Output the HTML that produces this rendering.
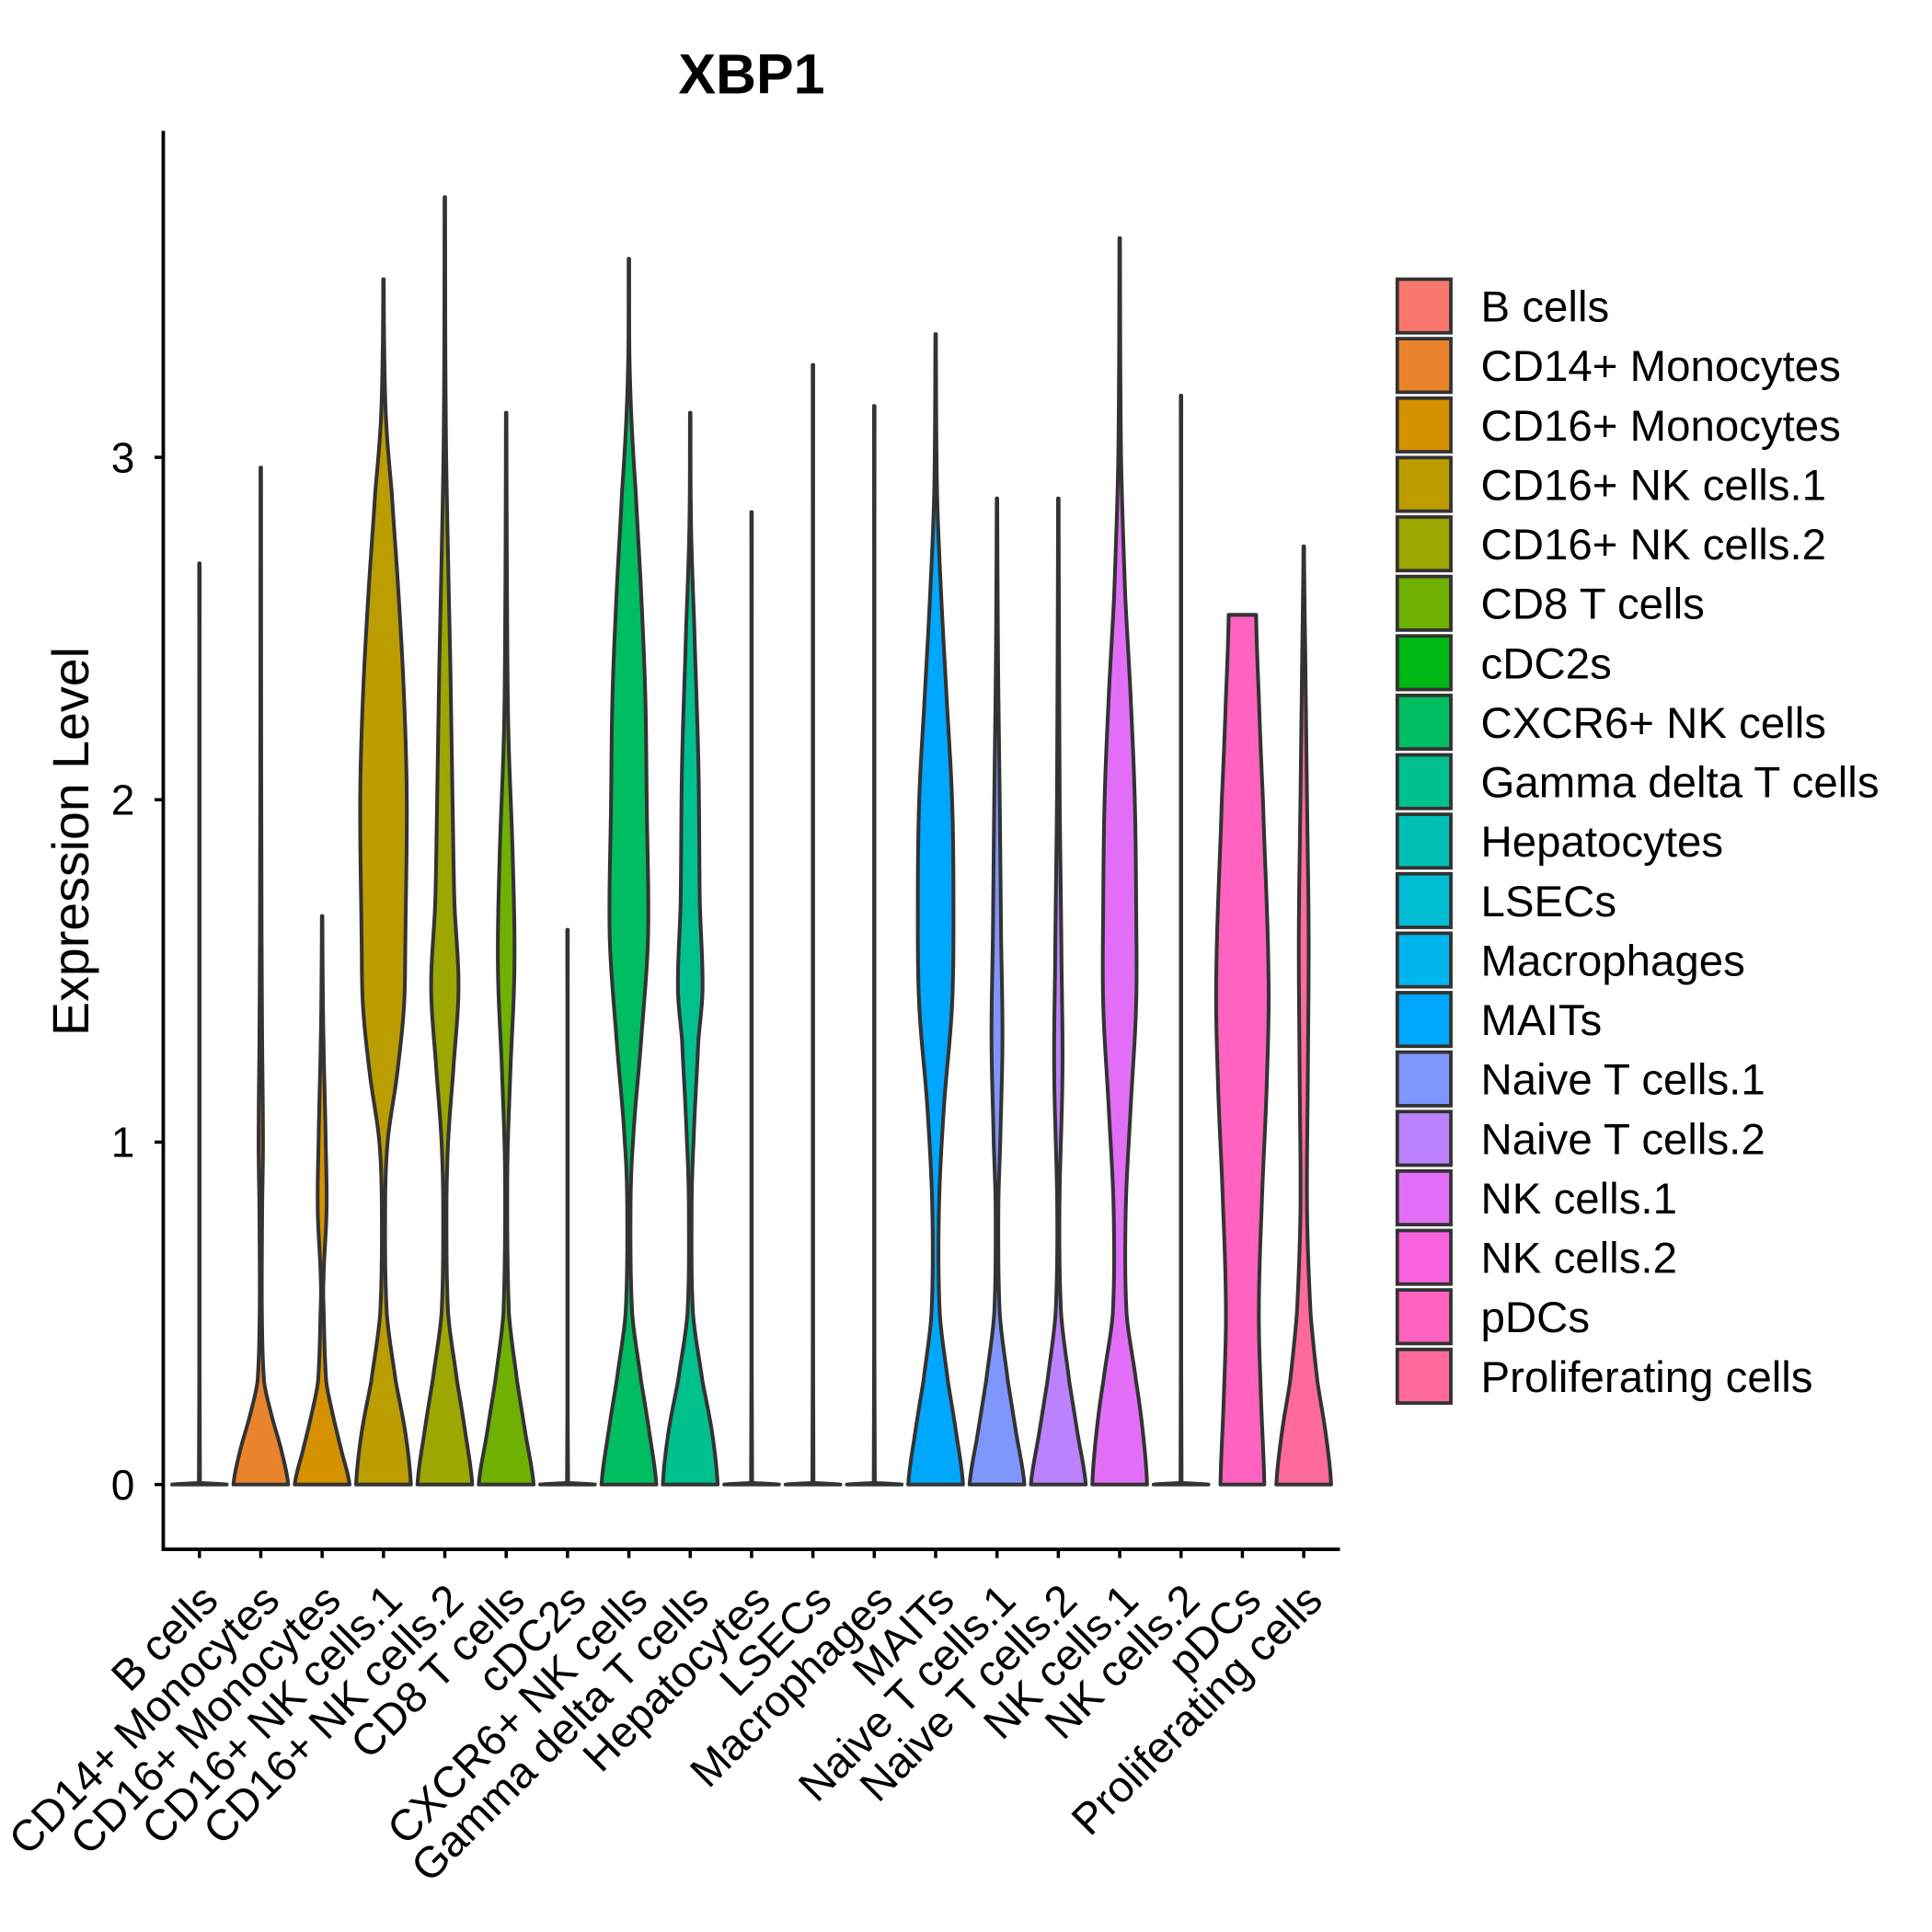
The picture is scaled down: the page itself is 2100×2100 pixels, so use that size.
<!DOCTYPE html>
<html><head><meta charset="utf-8"><style>html,body{margin:0;padding:0;background:#fff}svg{display:block}text{font-family:"Liberation Sans",Arial,sans-serif}</style></head>
<body>
<svg id="chart" width="2100" height="2100" viewBox="0 0 1550 1550" xmlns="http://www.w3.org/2000/svg">
<rect width="1550" height="1550" fill="#fff"/>
<text x="603" y="75" font-size="45" font-weight="bold" text-anchor="middle">XBP1</text>
<text transform="translate(71,675) rotate(-90)" font-size="41" text-anchor="middle">Expression Level</text>
<g id="plot"></g>
<g id="legend"></g>
</svg>
<script>
const categories = ["B cells","CD14+ Monocytes","CD16+ Monocytes","CD16+ NK cells.1","CD16+ NK cells.2","CD8 T cells","cDC2s","CXCR6+ NK cells","Gamma delta T cells","Hepatocytes","LSECs","Macrophages","MAITs","Naive T cells.1","Naive T cells.2","NK cells.1","NK cells.2","pDCs","Proliferating cells"];
const colors = ["#F8766D","#E9842C","#D69100","#BC9D00","#9CA700","#6FB000","#00B813","#00BD61","#00C08E","#00C0B4","#00BDD4","#00B5EE","#00A7FF","#7F96FF","#BC81FF","#E26EF7","#F863DF","#FF62BF","#FF6A9A"];
const maxValues = [2.69,2.97,1.66,3.52,3.76,3.13,1.62,3.58,3.13,2.84,3.27,3.15,3.36,2.88,2.88,3.64,3.18,2.54,2.74];
// density knots: [expression value, relative half-width]
const densities = [
 [[0,1],[0.005,0.02]],
 [[0,1],[0.1,0.75],[0.2,0.4],[0.3,0.12],[0.5,0.04],[0.8,0.05],[1.0,0.08],[1.3,0.05],[1.6,0.03],[2.2,0.015]],
 [[0,1],[0.1,0.7],[0.2,0.4],[0.3,0.15],[0.5,0.06],[0.6,0.05],[0.8,0.16],[1.0,0.13],[1.3,0.05],[1.5,0.02]],
 [[0,1],[0.15,0.8],[0.3,0.45],[0.5,0.12],[0.8,0.06],[1.0,0.15],[1.2,0.5],[1.4,0.75],[1.6,0.8],[2.0,0.85],[2.3,0.75],[2.6,0.55],[2.9,0.3],[3.1,0.1],[3.3,0.03]],
 [[0,1],[0.15,0.75],[0.3,0.45],[0.5,0.12],[0.8,0.06],[1.0,0.12],[1.2,0.3],[1.45,0.5],[1.7,0.35],[2.0,0.28],[2.4,0.2],[2.7,0.12],[3.0,0.05],[3.3,0.02]],
 [[0,1],[0.15,0.7],[0.3,0.4],[0.5,0.1],[0.9,0.04],[1.2,0.15],[1.5,0.3],[1.8,0.25],[2.2,0.08],[2.6,0.03]],
 [[0,1],[0.005,0.02]],
 [[0,1],[0.15,0.75],[0.3,0.45],[0.5,0.12],[0.8,0.06],[1.0,0.15],[1.3,0.45],[1.6,0.7],[2.0,0.65],[2.3,0.6],[2.6,0.45],[2.9,0.25],[3.1,0.1],[3.3,0.02]],
 [[0,1],[0.15,0.8],[0.3,0.45],[0.5,0.1],[0.8,0.05],[1.0,0.12],[1.3,0.3],[1.45,0.45],[1.7,0.35],[2.1,0.3],[2.5,0.15],[2.8,0.03]],
 [[0,1],[0.005,0.02]],
 [[0,1],[0.005,0.02]],
 [[0,1],[0.005,0.02]],
 [[0,1],[0.15,0.75],[0.3,0.45],[0.5,0.15],[0.8,0.12],[1.1,0.3],[1.4,0.6],[1.7,0.65],[2.0,0.6],[2.3,0.4],[2.6,0.2],[2.9,0.05]],
 [[0,1],[0.15,0.7],[0.3,0.4],[0.5,0.1],[0.8,0.05],[1.0,0.12],[1.3,0.2],[1.6,0.15],[2.0,0.1],[2.4,0.04]],
 [[0,1],[0.15,0.7],[0.3,0.4],[0.5,0.1],[0.8,0.04],[1.2,0.15],[1.5,0.12],[2.0,0.05]],
 [[0,1],[0.15,0.85],[0.3,0.6],[0.5,0.25],[0.8,0.22],[1.1,0.4],[1.4,0.6],[1.7,0.6],[2.0,0.55],[2.3,0.4],[2.6,0.2],[3.0,0.05]],
 [[0,1],[0.005,0.02]],
 [[0,0.8],[0.25,0.68],[0.5,0.6],[0.8,0.7],[1.2,0.9],[1.5,0.95],[2.0,0.75],[2.3,0.6],[2.54,0.5]],
 [[0,1],[0.15,0.8],[0.3,0.5],[0.5,0.25],[0.8,0.12],[1.2,0.15],[1.6,0.18],[2.0,0.12],[2.4,0.06]]
];
const yTicks = [0,1,2,3];

const NS = "http://www.w3.org/2000/svg";
const X0 = 160, XSTEP = 49.22, Y0 = 1191, YUNIT = 274.7, HALF = 22;
const xScale = i => X0 + i*XSTEP;
const yScale = v => Y0 - v*YUNIT;
const plot = document.getElementById('plot');
const legend = document.getElementById('legend');
function mk(tag, attrs, parent){ const e=document.createElementNS(NS,tag); for(const k in attrs) e.setAttribute(k,attrs[k]); parent.appendChild(e); return e; }

function smooth(k){
  if (k.length < 3) return k;
  const out = [];
  for (let j=0;j<k.length-1;j++){
    const p0 = k[Math.max(0,j-1)], p1 = k[j], p2 = k[j+1], p3 = k[Math.min(k.length-1,j+2)];
    const lo = Math.min(p1[1],p2[1]), hi = Math.max(p1[1],p2[1]);
    const N = 8;
    for (let s=0;s<N;s++){
      const t = s/N, t2=t*t, t3=t2*t;
      const w = 0.5*((2*p1[1]) + (-p0[1]+p2[1])*t + (2*p0[1]-5*p1[1]+4*p2[1]-p3[1])*t2 + (-p0[1]+3*p1[1]-3*p2[1]+p3[1])*t3);
      const v = p1[0] + (p2[0]-p1[0])*t;
      out.push([v, Math.max(lo*0.6, Math.min(hi*1.08, w))]);
    }
  }
  out.push(k[k.length-1]);
  return out;
}

categories.forEach((c,i)=>{
  const cx = xScale(i);
  const g = mk('g',{},plot);
  
  
  let k = densities[i].slice();
  const last = k[k.length-1];
  if (last[0] < maxValues[i]) k.push([maxValues[i], Math.min(last[1], 0.01)]);
  k = smooth(k);
  const line = mk('line',{x1:cx,x2:cx,y1:yScale(0),y2:yScale(maxValues[i]),stroke:'#333','stroke-width':3}, g);
  
  
  const left = k.map(p=>[cx - p[1]*HALF, yScale(p[0])]);
  const right = k.slice().reverse().map(p=>[cx + p[1]*HALF, yScale(p[0])]);
  const pts = left.concat(right);
  const d = 'M' + pts.map(p=>p[0].toFixed(2)+','+p[1].toFixed(2)).join('L') + 'Z';
  const path = mk('path',{d:d, fill:colors[i], stroke:'#333', 'stroke-width':3, 'stroke-linejoin':'round'}, g);
  
  
  const t = mk('line',{x1:cx,x2:cx,y1:1243,y2:1250,stroke:'#000','stroke-width':2.6}, plot);
  
  
  const lbl = mk('text',{transform:'translate('+(cx-1)+',1268) rotate(-45)','font-size':35,'text-anchor':'end',dy:'0.72em'}, plot);
  lbl.textContent = c;
  
  
  const ly = 224 + i*47.7;
  const lr = mk('rect',{x:1121,y:ly,width:43,height:43,fill:colors[i],stroke:'#333','stroke-width':2.8}, legend);
  
  
  const lt = mk('text',{x:1188,y:ly+34,'font-size':35}, legend);
  lt.textContent = c;
  
  
});
yTicks.forEach(v=>{
  const y = yScale(v);
  const t = mk('line',{x1:124,x2:131,y1:y,y2:y,stroke:'#000','stroke-width':2.6}, plot);
  
  
  const l = mk('text',{x:108,y:y+12,'font-size':34,'text-anchor':'end'}, plot);
  l.textContent = v;
  
  
});
const ax = mk('path',{d:'M131,105L131,1243L1075,1243',fill:'none',stroke:'#000','stroke-width':2.8}, plot);


</script>
</body></html>
